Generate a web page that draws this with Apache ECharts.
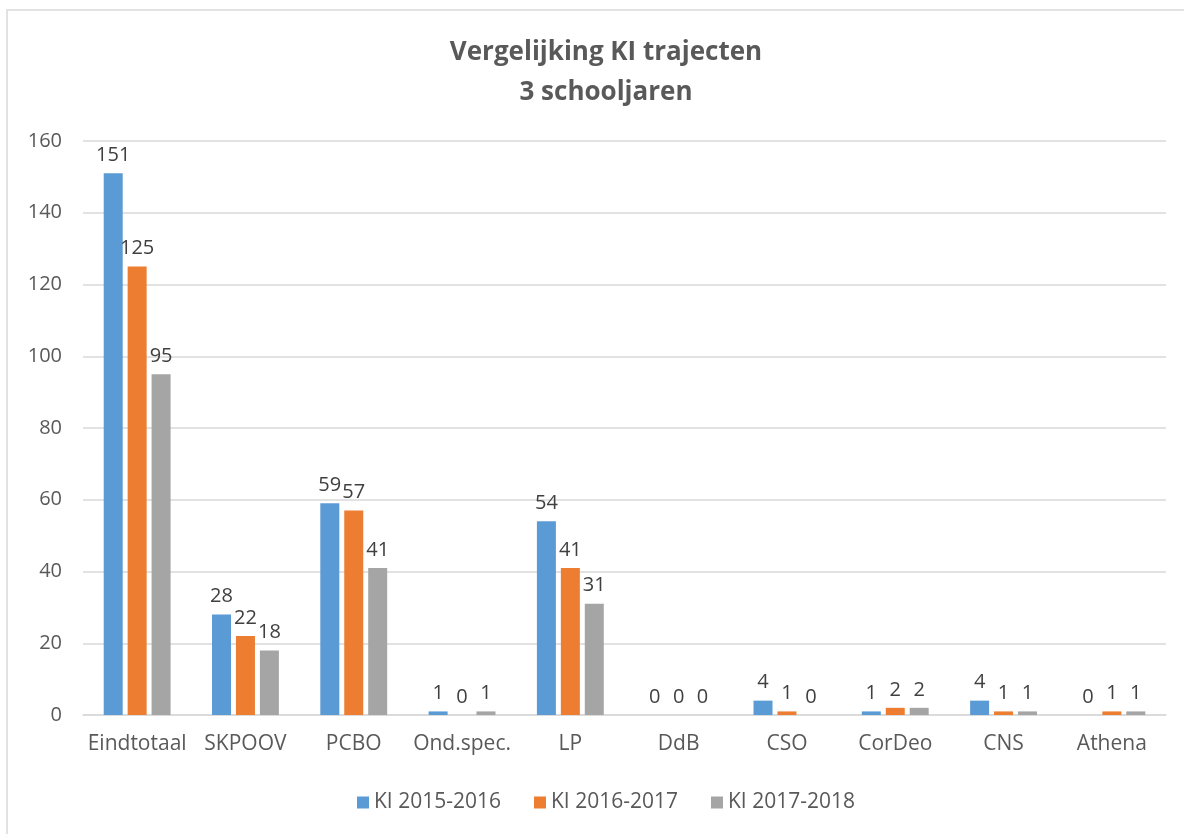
<!DOCTYPE html>
<html><head><meta charset="utf-8">
<script src="https://cdn.jsdelivr.net/npm/echarts@6/dist/echarts.min.js"></script>
<style>html,body{margin:0;padding:0;background:#fff}#c{width:1184px;height:834px}</style>
</head><body><div id="c"></div>
<script>
const categories = ['Eindtotaal','SKPOOV','PCBO','Ond.spec.','LP','DdB','CSO','CorDeo','CNS','Athena'];
const ki2015 = [151,28,59,1,54,0,4,1,4,0];
const ki2016 = [125,22,57,0,41,0,1,2,1,1];
const ki2017 = [95,18,41,1,31,0,0,2,1,1];
const seriesNames = ['KI 2015-2016','KI 2016-2017','KI 2017-2018'];
const yTicks = {min:0,max:160,interval:20};

const FONT = '"Open Sans", Lato, sans-serif';
const colors = ['#5B9BD5','#ED7D31','#A5A5A5'];
const chart = echarts.init(document.getElementById('c'));
function mk(name, data, color){
  return {name, type:'bar', data, barWidth:19, barGap:'26%',
    itemStyle:{color},
    label:{show:true, position:'top', distance:8, color:'#404040', fontSize:20, fontFamily:FONT}};
}
chart.setOption({
  animation:false,
  color:colors,
  title:{text:'Vergelijking KI trajecten\n3 schooljaren', left:601, textAlign:'center', top:28,
    textStyle:{fontFamily:FONT, fontSize:26, fontWeight:'bold', color:'#595959', lineHeight:40}},
  graphic:[{type:'rect', shape:{x:7,y:10,width:1200,height:900},
    style:{fill:'none', stroke:'#d9d9d9', lineWidth:1.5}, silent:true}],
  grid:{left:83, right:18, top:141, bottom:119, containLabel:false},
  legend:{bottom:16, left:352, itemWidth:12, itemHeight:12, itemGap:33, icon:'rect',
    textStyle:{fontFamily:FONT, fontSize:21, color:'#595959'}, data:seriesNames},
  xAxis:{type:'category', data:categories,
    axisLine:{lineStyle:{color:'#d9d9d9', width:1.5}}, axisTick:{show:false},
    axisLabel:{fontFamily:FONT, fontSize:21, color:'#595959', margin:19, interval:0}},
  yAxis:{type:'value', min:yTicks.min, max:yTicks.max, interval:yTicks.interval,
    axisLine:{show:false}, axisTick:{show:false},
    splitLine:{lineStyle:{color:'#d9d9d9', width:1.5}},
    axisLabel:{fontFamily:FONT, fontSize:20, color:'#595959', margin:21}},
  series:[mk(seriesNames[0],ki2015,colors[0]), mk(seriesNames[1],ki2016,colors[1]), mk(seriesNames[2],ki2017,colors[2])]
});
</script></body></html>
